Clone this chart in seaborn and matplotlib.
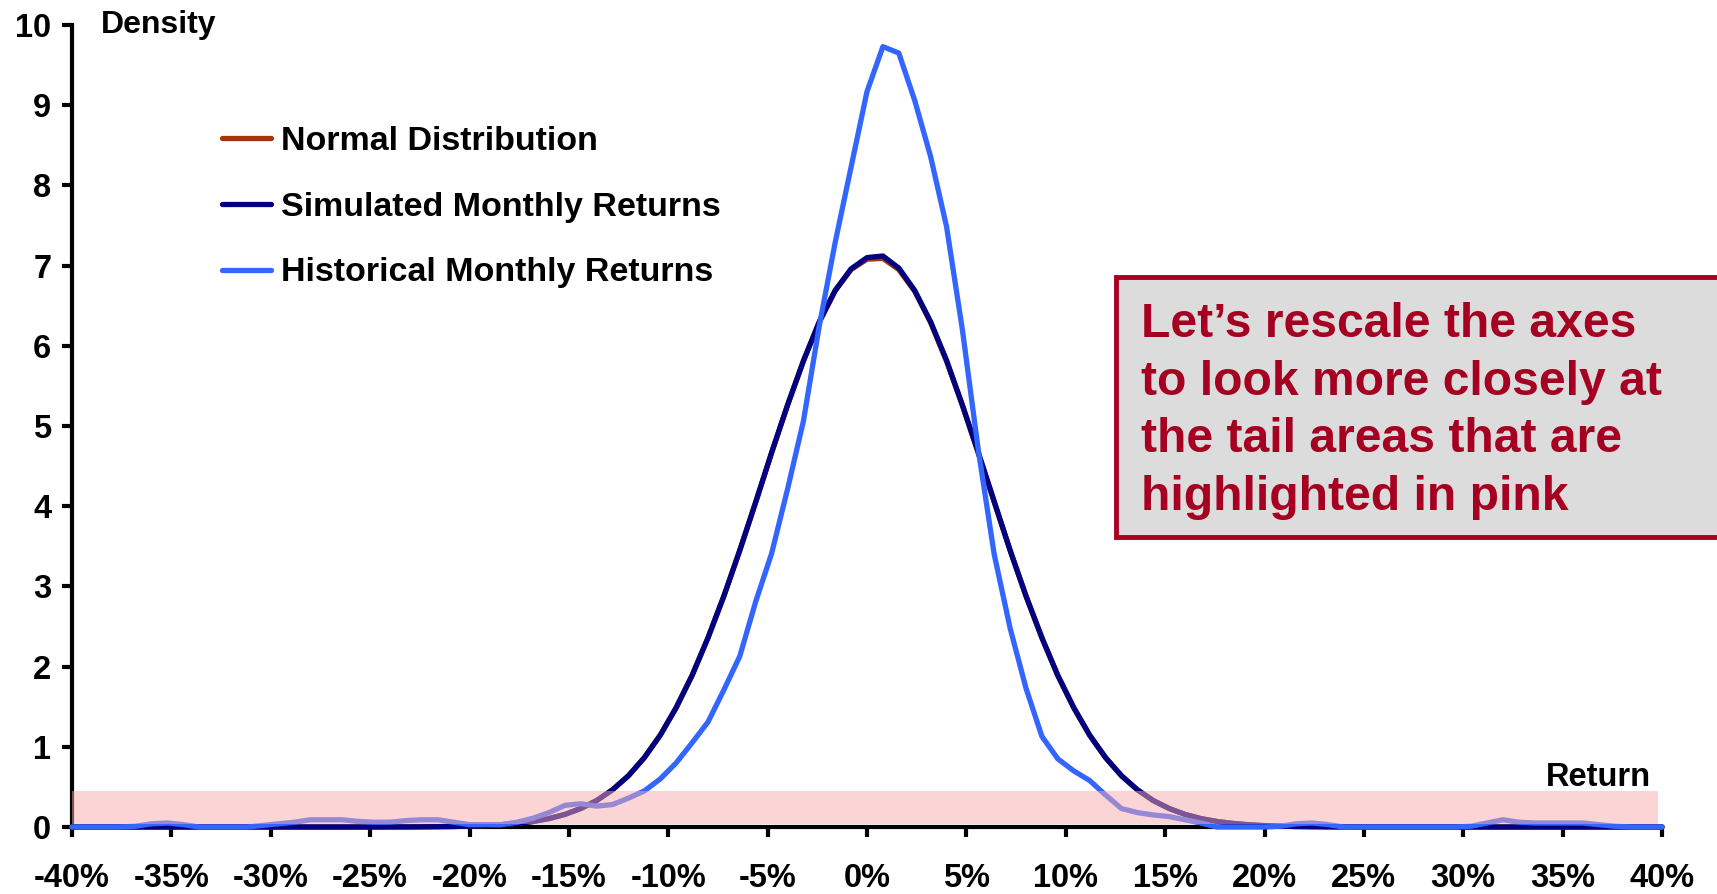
import numpy as np
import pandas as pd
import matplotlib
matplotlib.use("Agg")
import matplotlib.pyplot as plt
from matplotlib.patches import Rectangle
import seaborn as sns

# ---- data ----
returns_pct = [round(-40 + 0.8 * k, 1) for k in range(101)]  # sampling grid, %

normal_dist = [0.0] * 20 + [
    0.001, 0.001, 0.002, 0.004, 0.006, 0.011, 0.017, 0.028, 0.045, 0.069,
    0.105, 0.157, 0.231, 0.330, 0.465, 0.640, 0.866, 1.146, 1.487, 1.890,
    2.358, 2.881, 3.450, 4.051, 4.662, 5.257, 5.812, 6.297, 6.687, 6.950,
    7.080, 7.090, 6.950, 6.680, 6.290, 5.810, 5.257, 4.662, 4.051, 3.450,
    2.881, 2.358, 1.890, 1.487, 1.146, 0.866, 0.640, 0.465, 0.330, 0.231,
    0.157, 0.105, 0.069, 0.045, 0.028, 0.017, 0.011, 0.006, 0.004, 0.002,
    0.001, 0.001] + [0.0] * 19

simulated = [0.0] * 20 + [
    0.001, 0.001, 0.002, 0.004, 0.006, 0.011, 0.017, 0.028, 0.045, 0.069,
    0.105, 0.157, 0.231, 0.330, 0.465, 0.640, 0.866, 1.146, 1.490, 1.890,
    2.360, 2.880, 3.450, 4.050, 4.670, 5.260, 5.810, 6.300, 6.690, 6.960,
    7.100, 7.120, 6.970, 6.690, 6.300, 5.820, 5.260, 4.670, 4.060, 3.450,
    2.880, 2.360, 1.890, 1.490, 1.146, 0.866, 0.640, 0.465, 0.330, 0.231,
    0.157, 0.105, 0.069, 0.045, 0.028, 0.017, 0.011, 0.006, 0.004, 0.002,
    0.001, 0.001] + [0.0] * 19

historical = [
    0.0, 0.0, 0.0, 0.0, 0.01, 0.04, 0.05, 0.03, 0.0, 0.0,
    0.0, 0.0, 0.02, 0.04, 0.06, 0.09, 0.09, 0.09, 0.07, 0.06,
    0.06, 0.08, 0.09, 0.09, 0.06, 0.03, 0.03, 0.03, 0.06, 0.11,
    0.18, 0.27, 0.29, 0.26, 0.28, 0.36, 0.45, 0.60, 0.80, 1.05,
    1.31, 1.71, 2.13, 2.81, 3.41, 4.21, 5.06, 6.25, 7.29, 8.23,
    9.17, 9.73, 9.65, 9.06, 8.36, 7.49, 6.20, 4.70, 3.40, 2.48,
    1.73, 1.13, 0.85, 0.70, 0.58, 0.40, 0.23, 0.18, 0.15, 0.13,
    0.09, 0.05, 0.0, 0.0, 0.0, 0.0, 0.01, 0.04, 0.05, 0.03,
    0.0, 0.0, 0.0, 0.0, 0.0, 0.0, 0.0, 0.0, 0.01, 0.05,
    0.09, 0.06, 0.05, 0.05, 0.05, 0.05, 0.03, 0.01, 0.0, 0.0,
    0.0]

series_names = ["Normal Distribution", "Simulated Monthly Returns",
                "Historical Monthly Returns"]
series_colors = ["#a0380a", "#000080", "#3366ff"]

xtick_vals = list(range(-40, 41, 5))
xtick_labels = [f"{v}%" for v in xtick_vals]
ytick_vals = list(range(0, 11))

highlight_band = (0.04, 0.45)  # density range of the pink tail highlight

note_text = ("Let\u2019s rescale the axes\nto look more closely at\n"
             "the tail areas that are\nhighlighted in pink")

# ---- styling ----
sns.set_style("ticks")
plt.rcParams["font.family"] = ["Liberation Sans", "DejaVu Sans"]
plt.rcParams["font.weight"] = "bold"
plt.rcParams["text.color"] = "black"
plt.rcParams["axes.labelcolor"] = "black"
plt.rcParams["xtick.color"] = "black"
plt.rcParams["ytick.color"] = "black"

df = pd.DataFrame({
    "ret": returns_pct * 3,
    "density": normal_dist + simulated + historical,
    "series": sum([[n] * len(returns_pct) for n in series_names], []),
})

W, H = 1717, 894
fig = plt.figure(figsize=(W / 100, H / 100), dpi=100)
ax = fig.add_axes([72 / W, 67 / H, (1662 - 72) / W, (827 - 25) / H])

for name, col, z in zip(series_names, series_colors, [3, 4, 5]):
    sns.lineplot(data=df[df["series"] == name], x="ret", y="density",
                 color=col, linewidth=3.8, ax=ax, label=name, zorder=z,
                 clip_on=False, sort=False)

ax.set_xlim(-40, 40)
ax.set_ylim(0, 10)

# pink translucent highlight over the tails
ax.axhspan(highlight_band[0], highlight_band[1], xmin=0, xmax=79.8 / 80,
           facecolor="#f9abad", alpha=0.5, edgecolor="none", zorder=6)

ax.set_xticks(xtick_vals)
ax.set_xticklabels(xtick_labels)
ax.set_yticks(ytick_vals)
ax.set_xlabel("")
ax.set_ylabel("")
for s in ["top", "right"]:
    ax.spines[s].set_visible(False)
for s in ["left", "bottom"]:
    ax.spines[s].set_linewidth(3)
    ax.spines[s].set_color("black")
ax.tick_params(axis="both", direction="out", width=3, length=7,
               labelsize=23.5, colors="black")
ax.tick_params(axis="x", pad=19)
ax.tick_params(axis="y", pad=8)
for lab in ax.get_xticklabels() + ax.get_yticklabels():
    lab.set_fontweight("bold")
    lab.set_color("black")

leg = ax.legend(loc="upper left", bbox_to_anchor=(222 / W, 1 - 126 / H),
                bbox_transform=fig.transFigure, frameon=False,
                fontsize=24.5, handlelength=1.45, handletextpad=0.28,
                labelspacing=1.02, borderpad=0, borderaxespad=0)
for t in leg.get_texts():
    t.set_fontweight("bold")
    t.set_color("black")

fig.text(101 / W, 1 - 25 / H, "Density", fontsize=23, fontweight="bold",
         ha="left", va="center", color="black")
fig.text(1651 / W, 1 - 777 / H, "Return", fontsize=23.5, fontweight="bold",
         ha="right", va="center", color="black")

# annotation box
box = Rectangle((1116 / W, 1 - 537 / H), 0.40, 260 / H,
                transform=fig.transFigure, facecolor="#dcdcdc",
                edgecolor="#a50021", linewidth=3.5, clip_on=False, zorder=10)
fig.patches.append(box)
fig.text(1141 / W, 1 - 411 / H, note_text, fontsize=34.6, fontweight="bold",
         color="#a50021", ha="left", va="center", linespacing=1.36,
         zorder=11)

fig.savefig("out.png", dpi=100)
